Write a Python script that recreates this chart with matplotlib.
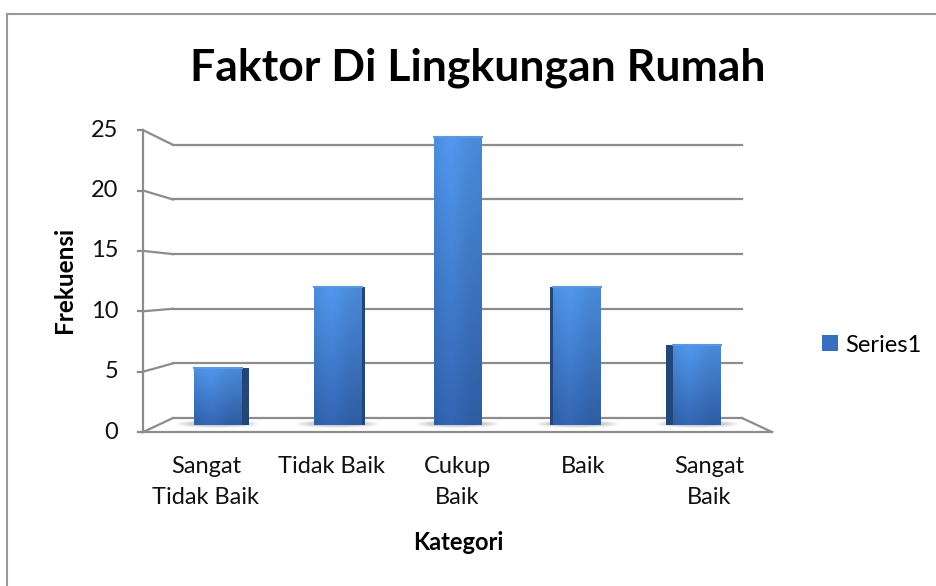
import numpy as np
import matplotlib.pyplot as plt
from matplotlib.patches import Rectangle, Ellipse
from matplotlib.lines import Line2D

# data
categories = ['Sangat\nTidak Baik', 'Tidak Baik', 'Cukup\nBaik', 'Baik', 'Sangat\nBaik']
frekuensi = [5, 12, 25, 12, 7]
y_ticks = [0, 5, 10, 15, 20, 25]
series_name = 'Series1'

plt.rcParams['font.family'] = ['Lato', 'DejaVu Sans']

# fake 3D: bars sit on the middle plane, walls are scaled around a centre point
CX, CY = 2.0, 12.2


def front(x, y):
    return CX + (x - CX) * 1.05, CY + (y - CY) * 1.05


def back(x, y):
    return CX + (x - CX) * 0.95, CY + (y - CY) * 0.95


fig = plt.figure(figsize=(9.36, 5.86), dpi=100)
ax = fig.add_axes([130 / 936, 136 / 586, 660 / 936, 350 / 586])
ax.set_xlim(-0.734, 4.775)
ax.set_ylim(-2.17, 28.26)
ax.axis('off')

grid_c = '#8c8c8c'
lw = 1.6
x_lo, x_hi = -0.5, len(categories) - 0.5
y_top = y_ticks[-1]

# back wall gridlines + left wall diagonals
for v in y_ticks:
    bx0, by = back(x_lo, v)
    bx1, _ = back(x_hi, v)
    fx, fy = front(x_lo, v)
    ax.plot([bx0, bx1], [by, by], color=grid_c, lw=lw, zorder=1)
    ax.plot([fx, bx0], [fy, by], color=grid_c, lw=lw, zorder=1)
    ax.plot([fx - 0.045, fx], [fy, fy], color=grid_c, lw=lw, zorder=1)
    ax.annotate(str(v), (fx, fy), xytext=(-18, 0), textcoords='offset points',
                ha='right', va='center', fontsize=17, color='#111111')

# front vertical axis and floor edges
fx0, fy0 = front(x_lo, 0)
_, fyt = front(x_lo, y_top)
fx1, _ = front(x_hi, 0)
bx1, by0 = back(x_hi, 0)
ax.plot([fx0, fx0], [fy0, fyt], color=grid_c, lw=lw, zorder=1)
ax.plot([fx0, fx1], [fy0, fy0], color=grid_c, lw=lw, zorder=1)
ax.plot([fx1, bx1], [fy0, by0], color=grid_c, lw=lw, zorder=1)

# bars
xs = np.arange(len(categories))
bar_w = 0.4
bars = ax.bar(xs, frekuensi, width=bar_w, color='#3a6fbd', label=series_name, zorder=3)

bottom_c = np.array([0x2e, 0x5c, 0xa2]) / 255
top_c = np.array([0x4a, 0x8a, 0xd8]) / 255
t = np.linspace(0, 1, 200)[:, None]
s = np.linspace(0, 1, 60)[None, :]
grad = bottom_c + (top_c - bottom_c) * t[..., None]
grad = grad * (1 + 0.10 * np.exp(-((s - 0.35) / 0.3) ** 2))[..., None]
grad = np.clip(grad, 0, 1)

for i, rect in enumerate(bars):
    x0, w, h = rect.get_x(), rect.get_width(), rect.get_height()
    # soft shadow on floor
    for k, a in enumerate([0.10, 0.12, 0.15]):
        ax.add_patch(Ellipse((x0 + w / 2, 0.1), w + 0.28 - k * 0.08, 0.7 - k * 0.15,
                             color='#707070', alpha=a, lw=0, zorder=2))
    im = ax.imshow(grad, extent=[x0, x0 + w, 0, h], origin='lower',
                   aspect='auto', zorder=4)
    im.set_clip_path(rect)
    # visible side face
    side = 0.03 * abs(i - CX)
    if side > 0:
        sx = x0 + w if i < CX else x0 - side
        ax.add_patch(Rectangle((sx, 0), side, h, color='#234679', lw=0, zorder=4))
    # light top edge
    ax.plot([x0, x0 + w], [h, h], color='#5c98e0', lw=1.5, zorder=5)

ax.set_xlim(-0.734, 4.775)
ax.set_ylim(-2.17, 28.26)

# category labels on front plane
for i, lab in enumerate(categories):
    cx, cy = front(i, 0)
    ax.annotate(lab, (cx, cy), xytext=(0, -17), textcoords='offset points',
                ha='center', va='top', fontsize=17, linespacing=1.6, color='#111111')

fig.text(478 / 936, 1 - 68 / 586, 'Faktor Di Lingkungan Rumah', ha='center',
         va='center', fontsize=32, fontweight='bold')
fig.text(65 / 936, 1 - 280 / 586, 'Frekuensi', rotation=90, ha='center',
         va='center', fontsize=17.5, fontweight='bold')
fig.text(458 / 936, 1 - 542 / 586, 'Kategori', ha='center', va='center',
         fontsize=17, fontweight='bold')

fig.legend(handles=[bars], labels=[series_name], loc='center left',
           bbox_to_anchor=(822 / 936, 1 - 345 / 586), frameon=False,
           borderpad=0, borderaxespad=0,
           fontsize=17, handlelength=0.68, handleheight=0.68, handletextpad=0.3)

# outer chart border (only top and left show)
fig.add_artist(Line2D([7.5 / 936, 7.5 / 936], [0, 1 - 14 / 586], color='#999999', lw=1.5))
fig.add_artist(Line2D([7.5 / 936, 1], [1 - 14 / 586, 1 - 14 / 586], color='#999999', lw=1.5))

fig.savefig('out.png', dpi=100, facecolor='white')
